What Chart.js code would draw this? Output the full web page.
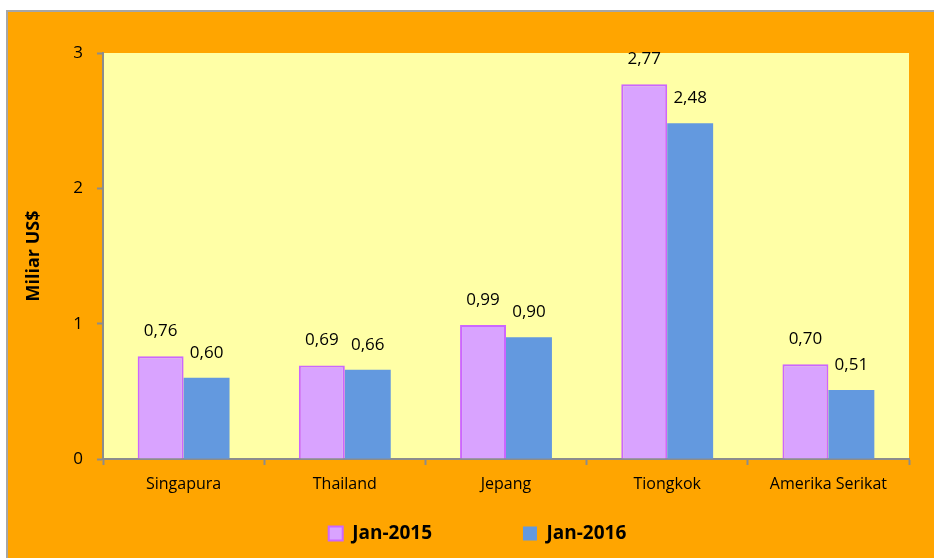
<!DOCTYPE html>
<html>
<head>
<meta charset="utf-8">
<script src="https://cdn.jsdelivr.net/npm/chart.js@4"></script>
<style>
    html, body { margin: 0; padding: 0; background: #ffffff; }
    #frame {
        position: absolute;
        left: 6px; top: 10px;
        width: 926px; height: 546px;
        border-left: 2px solid #a6a6a6;
        border-top: 2px solid #a6a6a6;
        background: #ffa500;
    }
    canvas { display: block; }
</style>
</head>
<body>
<div id="frame"><canvas id="chart" width="926" height="546"></canvas></div>
<script>
// data
const countries = ['Singapura', 'Thailand', 'Jepang', 'Tiongkok', 'Amerika Serikat'];
const jan2015 = [0.76, 0.69, 0.99, 2.77, 0.70];
const jan2016 = [0.60, 0.66, 0.90, 2.48, 0.51];
const seriesNames = ['Jan-2015', 'Jan-2016'];
const yTicks = [0, 1, 2, 3];

const FONT = '"Open Sans", sans-serif';

/**
 * Fills the plot area with the light yellow background.
 */
const plotBackground = {
    id: 'plotBackground',
    beforeDraw(chart) {
        const { ctx, chartArea } = chart;
        ctx.save();
        ctx.fillStyle = '#ffffa6';
        ctx.fillRect(chartArea.left, chartArea.top, chartArea.right - chartArea.left, chartArea.bottom - chartArea.top);
        ctx.restore();
    }
};

/**
 * Writes each bar's value above it, with a decimal comma.
 */
const valueLabels = {
    id: 'valueLabels',
    afterDatasetsDraw(chart) {
        const ctx = chart.ctx;
        ctx.save();
        ctx.font = '17px ' + FONT;
        ctx.fillStyle = '#000000';
        ctx.textAlign = 'center';
        ctx.textBaseline = 'middle';
        chart.data.datasets.forEach((ds, i) => {
            chart.getDatasetMeta(i).data.forEach((bar, j) => {
                const text = ds.data[j].toFixed(2).replace('.', ',');
                ctx.fillText(text, bar.x, bar.y - 25);
            });
        });
        ctx.restore();
    }
};

const ctx = document.getElementById('chart').getContext('2d');
new Chart(ctx, {
    type: 'bar',
    data: {
        labels: countries,
        datasets: [{
            // trailing spaces widen the gap between the two legend entries
            label: seriesNames[0] + '\u2003\u2003\u2003\u2003 ',
            data: jan2015,
            backgroundColor: '#d9a3ff',
            borderColor: '#cc66ff',
            borderWidth: 2
        }, {
            label: seriesNames[1] + '\u2003\u2003\u2003',
            data: jan2016,
            backgroundColor: '#6399df',
            borderWidth: 0
        }]
    },
    options: {
        responsive: false,
        animation: false,
        datasets: {
            bar: { categoryPercentage: 0.57, barPercentage: 1 }
        },
        layout: {
            padding: { left: 0, top: 41, right: 25, bottom: 5 }
        },
        scales: {
            x: {
                grid: {
                    offset: true,
                    drawOnChartArea: false,
                    drawTicks: true,
                    tickLength: 6,
                    tickWidth: 2,
                    color: '#8c8c8c'
                },
                border: { color: '#8c8c8c', width: 2 },
                ticks: {
                    color: '#000000',
                    font: { family: FONT, size: 16 },
                    padding: 10,
                    maxRotation: 0
                },
                afterFit(scale) { scale.height = 55; }
            },
            y: {
                min: 0,
                max: 3,
                afterBuildTicks(scale) {
                    scale.ticks = yTicks.map(v => ({ value: v }));
                },
                grid: {
                    drawOnChartArea: false,
                    drawTicks: true,
                    tickLength: 6,
                    tickWidth: 2,
                    color: '#8c8c8c'
                },
                border: { color: '#8c8c8c', width: 2 },
                ticks: {
                    color: '#000000',
                    font: { family: FONT, size: 17 },
                    padding: 14
                },
                title: {
                    display: true,
                    text: 'Miliar US$',
                    color: '#000000',
                    font: { family: FONT, size: 18, weight: 'bold' },
                    padding: { top: 15, bottom: 0 }
                },
                afterFit(scale) { scale.width = 95; }
            }
        },
        plugins: {
            legend: {
                position: 'bottom',
                fullSize: false,
                labels: {
                    color: '#000000',
                    font: { family: FONT, size: 19, weight: 'bold' },
                    boxWidth: 14,
                    boxHeight: 14,
                    padding: 10
                }
            },
            tooltip: { enabled: false }
        }
    },
    plugins: [plotBackground, valueLabels]
});
</script>
</body>
</html>
